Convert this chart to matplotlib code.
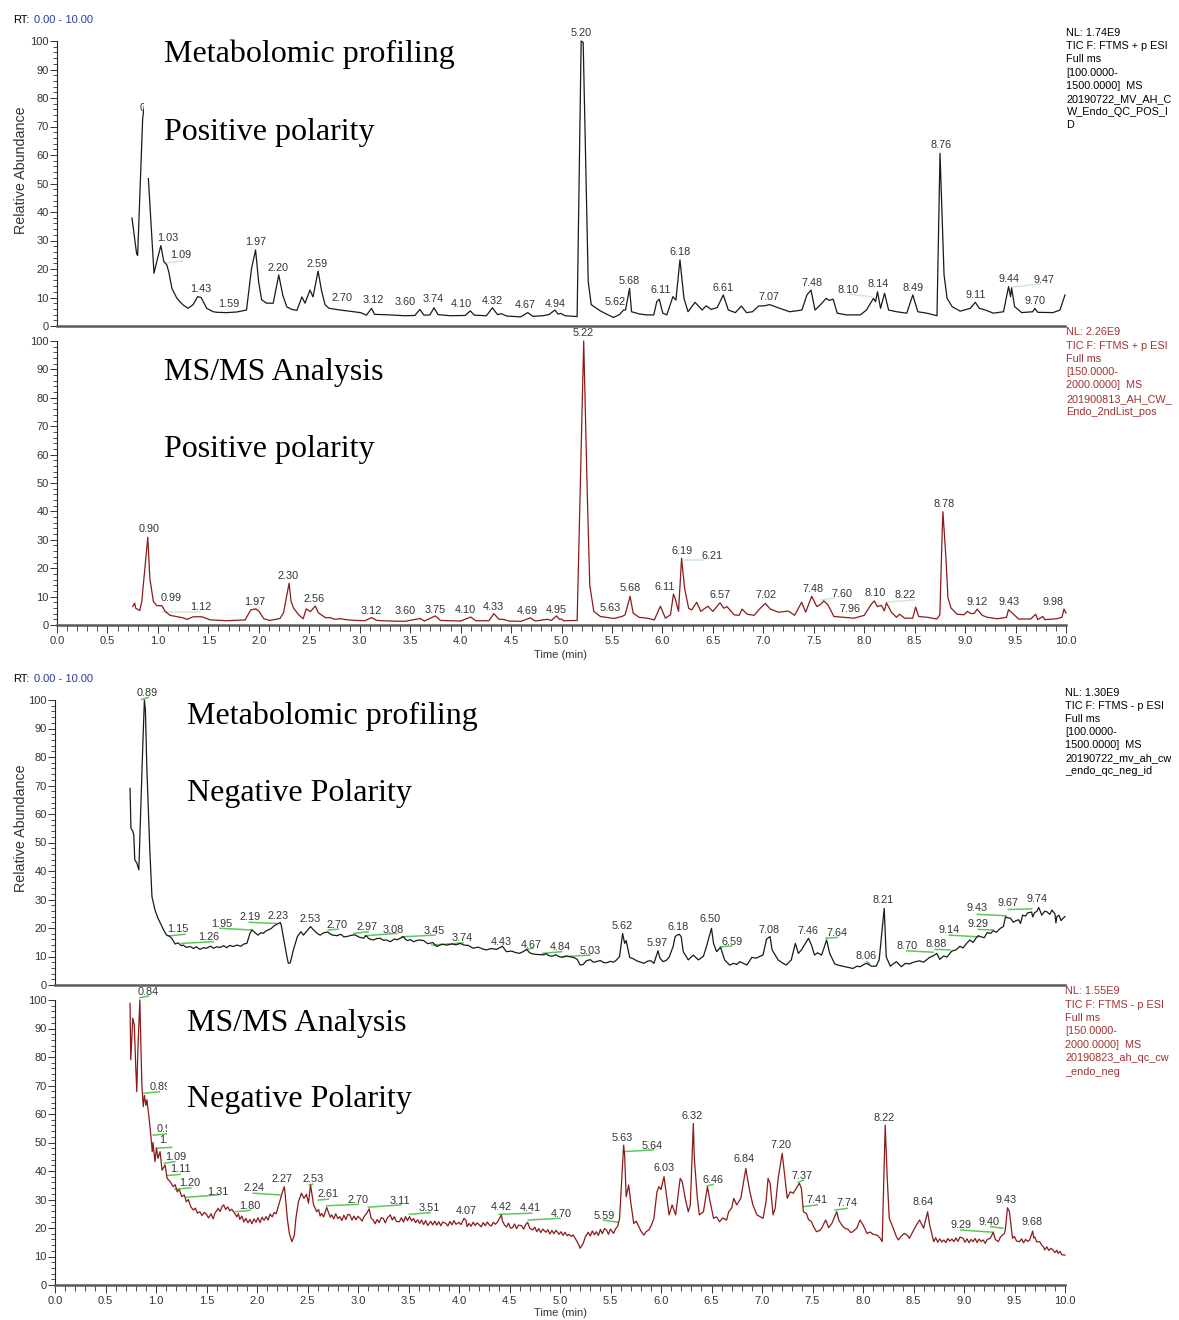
import matplotlib.pyplot as plt
from matplotlib.patches import Rectangle
from matplotlib.ticker import MultipleLocator, FormatStrFormatter

W, H = 1179, 1320
plt.rcParams['font.family'] = ['Liberation Sans', 'DejaVu Sans']

# TIC traces: (retention time in min, relative abundance in %)
tic_pos_profiling = [
    (0.744, 37.9), (0.79, 25.3), (0.80, 24.8), (0.85, 73), (0.87, 78), (0.906, 52), (0.962, 18.5),
    (0.99, 22.6), (1.03, 28.2), (1.06, 22.6), (1.09, 21.4), (1.11, 18.8), (1.14, 13.2), (1.19, 9.7),
    (1.25, 7.4), (1.30, 6.2), (1.35, 7.5), (1.395, 10.3), (1.43, 10.0), (1.485, 6.2), (1.55, 5.0),
    (1.59, 4.8), (1.68, 4.7), (1.78, 4.9), (1.88, 5.6), (1.93, 20.2), (1.97, 26.7), (2.00, 15.6),
    (2.03, 9.2), (2.08, 8.0), (2.145, 8.0), (2.20, 17.9), (2.24, 10.8), (2.28, 6.7), (2.33, 5.8),
    (2.38, 5.5), (2.43, 10.2), (2.46, 8.0), (2.51, 12.6), (2.54, 10.2), (2.59, 19.3), (2.625, 12.3),
    (2.66, 7.4), (2.70, 6.2), (2.81, 5.6), (2.90, 5.2), (3.01, 4.7), (3.07, 3.8), (3.12, 6.2),
    (3.15, 4.1), (3.30, 3.9), (3.45, 3.6), (3.55, 3.7), (3.60, 5.8), (3.64, 3.8), (3.70, 3.9),
    (3.74, 6.4), (3.78, 4.0), (3.90, 3.6), (4.05, 3.7), (4.10, 5.3), (4.14, 3.8), (4.26, 3.6),
    (4.32, 6.4), (4.37, 4.0), (4.41, 4.3), (4.46, 3.5), (4.60, 3.2), (4.67, 4.7), (4.72, 3.4),
    (4.82, 3.6), (4.88, 4.0), (4.94, 5.6), (4.97, 4.2), (5.00, 4.4), (5.04, 3.6), (5.16, 3.3),
    (5.20, 100), (5.22, 99.5), (5.27, 15.6), (5.30, 7.5), (5.39, 5.3), (5.45, 4.2), (5.52, 3.0),
    (5.58, 4.0), (5.62, 5.6), (5.64, 5.6), (5.68, 13.2), (5.70, 5.0), (5.78, 4.2), (5.85, 3.9),
    (5.92, 3.9), (5.95, 8.5), (5.975, 9.4), (6.01, 4.5), (6.05, 3.9), (6.11, 10.3), (6.14, 9.1),
    (6.18, 23.2), (6.22, 9.7), (6.26, 5.0), (6.33, 8.3), (6.40, 5.6), (6.44, 7.1), (6.49, 5.8),
    (6.55, 6.5), (6.61, 10.9), (6.66, 5.6), (6.73, 4.7), (6.79, 7.0), (6.84, 4.7), (6.90, 5.0),
    (6.96, 7.0), (7.02, 7.1), (7.07, 7.5), (7.17, 6.2), (7.27, 5.0), (7.39, 5.6), (7.44, 10.9),
    (7.48, 12.6), (7.52, 5.6), (7.57, 7.3), (7.63, 9.7), (7.66, 9.0), (7.70, 9.4), (7.74, 4.5),
    (7.83, 3.9), (7.97, 3.9), (8.03, 5.6), (8.10, 9.7), (8.12, 8.5), (8.14, 12.0), (8.17, 6.2),
    (8.21, 11.5), (8.25, 5.6), (8.33, 5.0), (8.43, 4.5), (8.49, 10.9), (8.54, 5.0), (8.63, 4.5),
    (8.73, 3.6), (8.76, 60.6), (8.80, 18.0), (8.83, 9.7), (8.88, 6.8), (8.96, 5.2), (9.06, 6.2),
    (9.11, 8.3), (9.15, 6.2), (9.21, 5.6), (9.29, 4.5), (9.39, 5.0), (9.44, 13.8), (9.46, 10.3),
    (9.47, 13.4), (9.50, 6.8), (9.57, 4.7), (9.68, 5.0), (9.70, 6.2), (9.73, 4.8), (9.88, 4.7),
    (9.95, 5.6), (10.0, 10.9),
]

tic_pos_msms = [
    (0.75, 6.5), (0.77, 7.7), (0.78, 5.9), (0.82, 5.1), (0.84, 8.3), (0.90, 30.9), (0.92, 16.5),
    (0.955, 8.3), (0.99, 6.8), (1.04, 6.8), (1.07, 4.9), (1.12, 3.4), (1.24, 2.6), (1.29, 2.0),
    (1.35, 2.9), (1.435, 2.9), (1.52, 1.8), (1.68, 1.5), (1.865, 1.8), (1.92, 5.3), (1.97, 5.7),
    (2.00, 4.9), (2.05, 2.2), (2.11, 1.6), (2.21, 2.3), (2.245, 4.3), (2.30, 14.7), (2.32, 8.3),
    (2.345, 5.9), (2.395, 3.6), (2.44, 2.2), (2.47, 5.7), (2.51, 4.7), (2.56, 6.7), (2.59, 4.3),
    (2.66, 2.6), (2.71, 2.6), (2.75, 2.0), (2.81, 2.2), (2.88, 1.8), (2.97, 1.6), (3.05, 1.5),
    (3.12, 2.6), (3.17, 1.6), (3.30, 1.4), (3.45, 1.3), (3.60, 2.3), (3.64, 1.4), (3.75, 3.2),
    (3.80, 1.6), (3.915, 1.5), (4.00, 1.4), (4.10, 2.8), (4.15, 1.5), (4.28, 1.5), (4.33, 4.0),
    (4.38, 2.0), (4.42, 2.0), (4.48, 1.4), (4.60, 1.3), (4.69, 2.5), (4.74, 1.4), (4.86, 2.0),
    (4.90, 1.6), (4.95, 3.2), (4.98, 2.0), (5.00, 2.1), (5.02, 1.5), (5.155, 1.6), (5.22, 100),
    (5.255, 46.9), (5.28, 14.1), (5.32, 4.8), (5.385, 3.0), (5.52, 2.3), (5.60, 3.0), (5.63, 3.6),
    (5.68, 10.1), (5.71, 4.2), (5.77, 2.7), (5.85, 2.4), (5.92, 1.8), (5.98, 6.6), (6.03, 2.4),
    (6.08, 3.6), (6.11, 10.9), (6.13, 8.9), (6.16, 4.8), (6.19, 23.5), (6.22, 12.9), (6.26, 5.9),
    (6.29, 5.3), (6.34, 8.0), (6.38, 4.8), (6.45, 6.6), (6.50, 4.8), (6.57, 7.8), (6.61, 5.9),
    (6.64, 6.5), (6.71, 3.6), (6.76, 3.4), (6.79, 5.6), (6.84, 3.8), (6.91, 3.4), (6.97, 5.9),
    (7.02, 7.6), (7.07, 5.6), (7.15, 4.5), (7.25, 4.9), (7.31, 3.4), (7.38, 8.0), (7.42, 4.5),
    (7.48, 10.1), (7.53, 6.5), (7.57, 7.3), (7.60, 8.5), (7.64, 7.1), (7.70, 3.0), (7.80, 2.7),
    (7.90, 2.4), (7.96, 3.0), (8.00, 3.4), (8.07, 7.3), (8.10, 8.5), (8.13, 6.5), (8.17, 6.9),
    (8.20, 5.0), (8.22, 7.8), (8.27, 4.5), (8.32, 2.7), (8.35, 3.8), (8.40, 2.4), (8.48, 2.4),
    (8.51, 6.3), (8.54, 3.0), (8.63, 2.7), (8.72, 2.1), (8.75, 3.6), (8.77, 29.3), (8.78, 39.9),
    (8.81, 23.7), (8.83, 9.6), (8.86, 6.0), (8.92, 3.8), (8.99, 3.6), (9.02, 4.8), (9.06, 4.0),
    (9.09, 4.1), (9.12, 5.6), (9.17, 3.4), (9.22, 2.7), (9.32, 2.2), (9.41, 2.7), (9.43, 5.4),
    (9.48, 3.8), (9.53, 2.1), (9.65, 2.1), (9.70, 3.8), (9.72, 1.9), (9.77, 3.0), (9.79, 1.9),
    (9.91, 2.2), (9.96, 2.7), (9.98, 5.6), (10.0, 4.2),
]

tic_neg_profiling = [
    (0.743, 69.0), (0.752, 55.0), (0.77, 54.0), (0.78, 52.6), (0.79, 43.9), (0.81, 42.8),
    (0.83, 40.4), (0.87, 85), (0.885, 100), (0.895, 96.5), (0.91, 75.4), (0.94, 46.2), (0.96, 31.0),
    (0.99, 26.3), (1.02, 23.4), (1.06, 20.5), (1.08, 19.0), (1.105, 17.5), (1.13, 17.2),
    (1.155, 16.4), (1.19, 14.4), (1.22, 14.8), (1.25, 13.8), (1.27, 14.0), (1.30, 13.2),
    (1.34, 13.5), (1.37, 12.8), (1.40, 13.4), (1.435, 12.5), (1.47, 13.1), (1.50, 12.9),
    (1.54, 13.6), (1.57, 12.9), (1.60, 13.4), (1.635, 13.2), (1.67, 13.8), (1.70, 13.1),
    (1.73, 13.9), (1.765, 13.5), (1.80, 14.0), (1.84, 13.6), (1.87, 14.4), (1.90, 14.6),
    (1.93, 18.1), (1.95, 19.3), (2.01, 17.5), (2.04, 18.4), (2.06, 18.1), (2.09, 19.0),
    (2.11, 19.3), (2.14, 19.8), (2.16, 20.5), (2.19, 21.2), (2.23, 21.9), (2.24, 21.0),
    (2.26, 17.0), (2.29, 11.1), (2.31, 7.6), (2.33, 7.8), (2.36, 12.3), (2.40, 17.0),
    (2.435, 18.7), (2.46, 17.5), (2.53, 20.5), (2.56, 19.3), (2.60, 18.0), (2.625, 17.5),
    (2.66, 18.3), (2.70, 18.6), (2.74, 17.6), (2.79, 17.3), (2.83, 17.8), (2.86, 16.9),
    (2.89, 17.0), (2.93, 17.4), (2.97, 17.6), (3.01, 16.8), (3.055, 16.4), (3.08, 17.3),
    (3.11, 16.2), (3.15, 15.8), (3.19, 16.3), (3.22, 16.4), (3.25, 15.7), (3.28, 15.8),
    (3.32, 15.2), (3.36, 16.1), (3.39, 15.9), (3.45, 17.0), (3.47, 16.0), (3.49, 15.6),
    (3.52, 15.9), (3.55, 15.2), (3.60, 15.8), (3.65, 15.6), (3.69, 14.5), (3.74, 14.9),
    (3.78, 13.5), (3.83, 14.3), (3.88, 14.0), (3.93, 14.4), (3.97, 14.1), (4.01, 14.6),
    (4.05, 14.0), (4.09, 13.9), (4.14, 12.9), (4.19, 13.3), (4.23, 12.7), (4.27, 12.3),
    (4.32, 12.8), (4.37, 12.5), (4.40, 13.0), (4.43, 13.6), (4.47, 11.7), (4.52, 11.9),
    (4.56, 11.4), (4.60, 11.1), (4.64, 11.8), (4.67, 12.5), (4.70, 11.3), (4.73, 10.9),
    (4.78, 10.7), (4.84, 10.6), (4.86, 11.0), (4.89, 10.3), (4.92, 10.1), (4.96, 10.6),
    (5.00, 9.8), (5.03, 9.8), (5.06, 10.2), (5.10, 9.9), (5.14, 9.6), (5.17, 9.0), (5.20, 7.0),
    (5.23, 7.2), (5.26, 8.5), (5.30, 8.9), (5.33, 8.0), (5.36, 8.2), (5.40, 8.6), (5.43, 7.9),
    (5.46, 7.8), (5.50, 8.3), (5.53, 8.0), (5.56, 8.8), (5.59, 10.0), (5.62, 18.1), (5.64, 14.6),
    (5.655, 15.6), (5.69, 9.7), (5.72, 9.3), (5.76, 8.5), (5.80, 8.0), (5.83, 7.6), (5.87, 8.4),
    (5.90, 8.5), (5.93, 7.6), (5.97, 12.0), (5.99, 9.4), (6.02, 8.2), (6.05, 8.6), (6.08, 9.7),
    (6.12, 13.5), (6.14, 17.0), (6.16, 17.5), (6.18, 17.8), (6.20, 17.0), (6.22, 11.7),
    (6.27, 8.8), (6.32, 10.5), (6.37, 8.8), (6.42, 10.1), (6.45, 13.5), (6.50, 19.9),
    (6.52, 14.6), (6.55, 11.7), (6.59, 13.2), (6.63, 8.8), (6.68, 7.0), (6.72, 7.6), (6.75, 7.2),
    (6.78, 8.2), (6.82, 7.5), (6.85, 7.0), (6.90, 9.7), (6.94, 9.4), (6.97, 9.9), (7.01, 10.5),
    (7.045, 16.1), (7.08, 17.0), (7.10, 12.3), (7.16, 8.8), (7.20, 7.8), (7.24, 7.0), (7.29, 8.8),
    (7.33, 14.6), (7.36, 11.1), (7.39, 12.3), (7.46, 16.4), (7.49, 14.0), (7.52, 10.5),
    (7.55, 11.3), (7.59, 10.5), (7.64, 15.8), (7.67, 11.1), (7.72, 7.4), (7.76, 6.9), (7.80, 6.6),
    (7.85, 6.2), (7.90, 5.8), (7.94, 6.6), (7.97, 6.4), (8.03, 7.6), (8.06, 7.2), (8.08, 6.6),
    (8.13, 6.6), (8.16, 8.8), (8.21, 26.9), (8.23, 9.9), (8.27, 6.6), (8.30, 7.4), (8.33, 8.2),
    (8.38, 6.4), (8.42, 7.6), (8.46, 7.4), (8.50, 8.0), (8.56, 8.5), (8.60, 8.0), (8.66, 9.7),
    (8.70, 10.3), (8.73, 11.1), (8.76, 9.0), (8.80, 10.2), (8.83, 9.8), (8.86, 11.1),
    (8.88, 11.9), (8.92, 12.3), (8.96, 13.6), (8.99, 13.0), (9.03, 14.8), (9.06, 15.8),
    (9.09, 14.9), (9.12, 16.5), (9.14, 17.3), (9.16, 17.0), (9.20, 16.6), (9.23, 18.4),
    (9.26, 18.1), (9.29, 19.0), (9.32, 18.5), (9.36, 19.9), (9.39, 20.5), (9.41, 23.9),
    (9.43, 23.6), (9.46, 23.4), (9.49, 22.0), (9.51, 22.5), (9.54, 22.9), (9.56, 21.6),
    (9.58, 24.5), (9.61, 24.2), (9.63, 25.3), (9.67, 25.6), (9.68, 23.9), (9.70, 25.4),
    (9.72, 25.8), (9.74, 27.2), (9.77, 24.5), (9.80, 25.9), (9.82, 25.7), (9.85, 24.8),
    (9.87, 26.3), (9.90, 25.0), (9.91, 21.8), (9.92, 24.0), (9.94, 24.5), (9.96, 22.6),
    (9.98, 23.4), (10.0, 24.0),
]

tic_neg_msms = [
    (0.743, 98.8), (0.75, 79), (0.77, 93.6), (0.785, 91.2), (0.80, 76), (0.81, 67.8), (0.82, 82),
    (0.84, 100), (0.86, 70), (0.874, 62.6), (0.885, 66.5), (0.90, 63.0), (0.91, 65.0), (0.93, 59.0),
    (0.946, 53.6), (0.963, 46.8), (0.97, 50.0), (0.99, 43.3), (1.005, 48.0), (1.02, 44.4),
    (1.04, 46.8), (1.06, 40.3), (1.09, 42.1), (1.11, 37.4), (1.14, 36.3), (1.17, 34.5),
    (1.19, 35.2), (1.21, 32.7), (1.23, 33.5), (1.255, 31.0), (1.28, 31.6), (1.30, 29.2),
    (1.32, 30.0), (1.345, 27.4), (1.37, 26.3), (1.39, 27.0), (1.41, 25.2), (1.435, 25.7),
    (1.455, 24.4), (1.48, 25.5), (1.50, 24.8), (1.52, 23.5), (1.545, 25.0), (1.565, 23.2),
    (1.585, 25.3), (1.60, 26.0), (1.615, 26.9), (1.635, 25.8), (1.655, 27.6), (1.67, 28.1),
    (1.69, 26.5), (1.71, 27.4), (1.73, 26.0), (1.75, 26.6), (1.78, 25.1), (1.80, 23.9),
    (1.815, 25.0), (1.83, 23.0), (1.85, 24.2), (1.87, 22.1), (1.89, 23.4), (1.91, 21.8),
    (1.93, 23.0), (1.95, 21.5), (1.97, 23.2), (1.99, 22.0), (2.01, 23.6), (2.03, 21.9),
    (2.05, 23.8), (2.07, 22.7), (2.09, 24.0), (2.11, 22.8), (2.13, 24.9), (2.15, 23.9),
    (2.17, 25.4), (2.19, 25.0), (2.21, 27.5), (2.235, 30.5), (2.255, 33.0), (2.27, 34.5),
    (2.28, 31.5), (2.30, 23.4), (2.32, 18.1), (2.345, 15.2), (2.37, 17.5), (2.385, 23.4),
    (2.41, 29.2), (2.44, 32.2), (2.465, 30.4), (2.49, 31.8), (2.51, 28.7), (2.53, 35.1),
    (2.56, 28.1), (2.575, 27.0), (2.59, 25.7), (2.61, 26.5), (2.625, 24.2), (2.64, 25.1),
    (2.66, 23.9), (2.69, 27.2), (2.71, 25.3), (2.725, 23.8), (2.74, 24.6), (2.76, 23.2),
    (2.78, 25.0), (2.80, 23.3), (2.82, 24.0), (2.84, 22.6), (2.86, 24.5), (2.88, 23.0),
    (2.90, 24.8), (2.92, 24.6), (2.94, 22.8), (2.96, 24.2), (2.98, 22.9), (3.00, 24.1),
    (3.02, 23.4), (3.04, 22.4), (3.06, 24.0), (3.085, 25.1), (3.11, 26.7), (3.13, 23.5),
    (3.15, 22.8), (3.17, 21.5), (3.19, 23.0), (3.21, 21.9), (3.23, 23.6), (3.25, 23.4),
    (3.27, 21.8), (3.29, 23.5), (3.32, 24.6), (3.34, 22.8), (3.36, 23.9), (3.38, 22.3),
    (3.41, 22.2), (3.43, 23.6), (3.45, 22.1), (3.47, 24.0), (3.49, 22.6), (3.51, 24.0),
    (3.53, 22.5), (3.55, 23.3), (3.57, 21.9), (3.59, 22.9), (3.61, 21.6), (3.63, 22.8),
    (3.65, 21.2), (3.67, 22.6), (3.69, 20.9), (3.72, 22.3), (3.74, 21.1), (3.76, 22.4),
    (3.78, 21.0), (3.80, 22.2), (3.82, 20.8), (3.84, 22.1), (3.87, 21.6), (3.89, 20.7),
    (3.91, 22.3), (3.93, 21.1), (3.95, 22.6), (3.97, 21.3), (4.00, 22.0), (4.02, 21.2),
    (4.05, 23.4), (4.07, 22.6), (4.08, 20.5), (4.10, 21.6), (4.12, 20.6), (4.14, 22.0),
    (4.16, 20.9), (4.18, 21.8), (4.20, 21.1), (4.22, 20.4), (4.24, 21.9), (4.26, 20.8),
    (4.28, 22.1), (4.30, 21.1), (4.32, 20.7), (4.34, 22.0), (4.36, 21.3), (4.38, 22.0),
    (4.42, 24.6), (4.43, 22.5), (4.45, 21.1), (4.47, 20.3), (4.49, 21.7), (4.51, 19.9),
    (4.53, 20.1), (4.55, 21.4), (4.57, 19.8), (4.59, 21.0), (4.62, 20.8), (4.64, 19.6),
    (4.66, 21.2), (4.68, 22.0), (4.70, 19.9), (4.73, 19.3), (4.75, 20.3), (4.77, 18.7),
    (4.79, 19.8), (4.81, 18.4), (4.83, 19.6), (4.86, 18.5), (4.88, 19.4), (4.90, 17.9),
    (4.92, 19.1), (4.94, 18.0), (4.96, 19.2), (4.99, 17.8), (5.01, 18.7), (5.03, 17.4),
    (5.05, 18.5), (5.07, 17.3), (5.09, 17.8), (5.11, 17.0), (5.13, 17.6), (5.16, 15.8),
    (5.18, 14.5), (5.20, 12.9), (5.215, 13.8), (5.23, 14.6), (5.25, 16.8), (5.28, 18.5),
    (5.30, 17.2), (5.32, 19.0), (5.34, 17.6), (5.36, 18.7), (5.38, 17.4), (5.40, 19.5),
    (5.42, 18.0), (5.44, 19.8), (5.46, 19.3), (5.48, 17.8), (5.50, 19.6), (5.53, 18.1),
    (5.55, 19.7), (5.57, 20.5), (5.59, 23.4), (5.63, 49.1), (5.64, 45.6), (5.655, 31.0),
    (5.68, 35.1), (5.70, 29.2), (5.73, 21.6), (5.755, 22.4), (5.78, 20.5), (5.80, 19.0),
    (5.83, 17.5), (5.855, 18.8), (5.88, 19.3), (5.905, 21.0), (5.93, 23.4), (5.96, 32.7),
    (5.98, 34.5), (6.00, 33.5), (6.03, 38.0), (6.05, 32.7), (6.08, 24.6), (6.11, 28.1),
    (6.145, 24.6), (6.19, 37.4), (6.21, 36.3), (6.24, 30.4), (6.27, 25.7), (6.29, 28.0),
    (6.32, 56.7), (6.33, 44.4), (6.36, 30.4), (6.38, 24.6), (6.42, 25.7), (6.46, 34.5),
    (6.48, 30.4), (6.52, 23.4), (6.55, 23.9), (6.58, 22.2), (6.61, 23.5), (6.65, 22.8),
    (6.67, 25.7), (6.70, 27.0), (6.72, 30.4), (6.75, 28.1), (6.79, 30.4), (6.84, 40.9),
    (6.85, 38.6), (6.88, 32.7), (6.91, 28.1), (6.95, 24.6), (6.98, 24.0), (7.01, 23.4),
    (7.04, 29.2), (7.06, 37.4), (7.08, 35.7), (7.11, 24.6), (7.13, 26.9), (7.16, 37.4),
    (7.20, 46.2), (7.22, 39.8), (7.25, 30.4), (7.28, 32.7), (7.31, 32.2), (7.34, 34.0),
    (7.37, 35.7), (7.39, 33.9), (7.41, 25.7), (7.44, 25.1), (7.46, 23.0), (7.49, 22.2),
    (7.51, 20.5), (7.54, 18.7), (7.57, 19.1), (7.59, 19.9), (7.63, 22.8), (7.66, 20.1),
    (7.69, 21.5), (7.74, 25.7), (7.76, 22.8), (7.79, 21.0), (7.82, 19.9), (7.85, 19.6),
    (7.88, 18.4), (7.90, 18.7), (7.94, 20.0), (7.97, 22.8), (8.00, 21.1), (8.04, 18.1),
    (8.07, 18.6), (8.10, 17.8), (8.14, 17.5), (8.17, 16.4), (8.19, 15.2), (8.22, 56.1),
    (8.24, 37.4), (8.26, 23.4), (8.30, 19.9), (8.33, 17.0), (8.35, 15.8), (8.38, 17.2),
    (8.41, 18.1), (8.44, 17.4), (8.46, 16.4), (8.49, 18.5), (8.53, 21.1), (8.56, 22.8),
    (8.60, 19.9), (8.64, 25.7), (8.66, 21.1), (8.70, 15.2), (8.72, 16.6), (8.74, 15.0),
    (8.76, 16.2), (8.78, 15.1), (8.80, 15.8), (8.82, 14.9), (8.84, 16.3), (8.86, 15.4),
    (8.88, 16.1), (8.90, 15.2), (8.92, 16.5), (8.94, 15.3), (8.96, 16.8), (8.99, 16.4),
    (9.01, 15.0), (9.03, 16.2), (9.05, 14.8), (9.07, 16.0), (9.09, 15.2), (9.11, 16.3),
    (9.13, 14.9), (9.15, 16.1), (9.17, 15.3), (9.19, 15.8), (9.21, 14.6), (9.23, 16.0),
    (9.26, 16.4), (9.29, 18.5), (9.31, 16.0), (9.34, 15.2), (9.36, 16.8), (9.40, 18.1),
    (9.41, 19.5), (9.43, 27.1), (9.45, 25.7), (9.48, 16.4), (9.50, 17.0), (9.52, 15.4),
    (9.55, 15.2), (9.57, 16.2), (9.59, 14.8), (9.61, 16.0), (9.63, 15.3), (9.65, 15.8),
    (9.68, 18.9), (9.69, 16.5), (9.70, 16.9), (9.72, 15.1), (9.75, 15.2), (9.77, 14.0),
    (9.79, 13.2), (9.80, 12.3), (9.82, 13.4), (9.84, 12.1), (9.86, 12.9), (9.88, 12.3),
    (9.90, 11.4), (9.92, 12.2), (9.93, 11.1), (9.95, 11.8), (9.97, 10.6), (10.0, 10.5),
]

# Peak annotations: (label, rt position, abundance position)
labels_pos_profiling = [
    ('0.85', 0.925, 76.5), ('1.03', 1.101, 30.9), ('1.09', 1.230, 24.9), ('1.43', 1.429, 13.0),
    ('1.59', 1.706, 7.7), ('1.97', 1.974, 29.5), ('2.20', 2.192, 20.4), ('2.59', 2.579, 21.8),
    ('2.70', 2.827, 9.8), ('3.12', 3.135, 9.1), ('3.60', 3.452, 8.4), ('3.74', 3.730, 9.5),
    ('4.10', 4.008, 7.7), ('4.32', 4.315, 8.8), ('4.67', 4.643, 7.4), ('4.94', 4.940, 7.7),
    ('5.20', 5.198, 102.8), ('5.62', 5.536, 8.4), ('5.68', 5.675, 15.8), ('6.11', 5.992, 12.6),
    ('6.18', 6.181, 26.0), ('6.61', 6.607, 13.3), ('7.07', 7.063, 10.2), ('7.48', 7.490, 15.1),
    ('8.10', 7.847, 12.6), ('8.14', 8.145, 14.7), ('8.49', 8.492, 13.3), ('8.76', 8.770, 63.5),
    ('9.11', 9.117, 10.9), ('9.44', 9.444, 16.5), ('9.47', 9.792, 16.1), ('9.70', 9.702, 8.8),
]
labels_pos_msms = [
    ('0.90', 0.913, 33.8), ('0.99', 1.131, 9.5), ('1.12', 1.429, 6.3), ('1.97', 1.964, 8.1),
    ('2.30', 2.292, 17.3), ('2.56', 2.550, 9.2), ('3.12', 3.115, 4.9), ('3.60', 3.452, 4.9),
    ('3.75', 3.750, 5.3), ('4.10', 4.048, 5.3), ('4.33', 4.325, 6.3), ('4.69', 4.663, 4.9),
    ('4.95', 4.950, 5.3), ('5.22', 5.218, 102.8), ('5.63', 5.486, 6.0), ('5.68', 5.685, 13.0),
    ('6.11', 6.022, 13.4), ('6.19', 6.190, 26.1), ('6.21', 6.488, 24.3), ('6.57', 6.567, 10.6),
    ('7.02', 7.024, 10.6), ('7.48', 7.490, 12.7), ('7.60', 7.778, 10.9), ('7.96', 7.857, 5.6),
    ('8.10', 8.105, 11.3), ('8.22', 8.403, 10.6), ('8.78', 8.790, 42.6), ('9.12', 9.117, 8.1),
    ('9.43', 9.435, 8.1), ('9.98', 9.871, 8.1),
]
labels_neg_profiling = [
    ('0.89', 0.908, 102.6), ('1.15', 1.221, 19.5), ('1.26', 1.518, 16.9), ('1.95', 1.650, 21.4),
    ('2.19', 1.931, 23.8), ('2.23', 2.211, 24.2), ('2.53', 2.525, 23.1), ('2.70', 2.795, 21.1),
    ('2.97', 3.086, 20.2), ('3.08', 3.350, 19.3), ('3.45', 3.755, 19.1), ('3.74', 4.027, 16.4),
    ('4.43', 4.423, 15.2), ('4.67', 4.720, 14.0), ('4.84', 5.000, 13.2), ('5.03', 5.297, 12.0),
    ('5.62', 5.617, 20.7), ('5.97', 5.957, 14.8), ('6.18', 6.165, 20.2), ('6.50', 6.485, 23.1),
    ('6.59', 6.700, 15.2), ('7.08', 7.072, 19.3), ('7.46', 7.458, 18.9), ('7.64', 7.740, 18.4),
    ('8.06', 8.027, 10.2), ('8.21', 8.201, 29.8), ('8.70', 8.433, 13.7), ('8.88', 8.723, 14.3),
    ('9.14', 8.851, 19.3), ('9.29', 9.142, 21.4), ('9.43', 9.132, 26.9), ('9.67', 9.439, 28.9),
    ('9.74', 9.726, 30.1),
]
labels_neg_msms = [
    ('0.84', 0.924, 102.9), ('0.89', 1.045, 69.6), ('0.97', 1.114, 54.7), ('1.01', 1.140, 50.9),
    ('1.09', 1.198, 45.0), ('1.11', 1.246, 40.6), ('1.20', 1.337, 35.7), ('1.31', 1.617, 32.7),
    ('1.80', 1.933, 27.8), ('2.24', 1.975, 33.9), ('2.27', 2.252, 37.2), ('2.53', 2.552, 37.2),
    ('2.61', 2.703, 31.8), ('2.70', 3.000, 29.8), ('3.11', 3.419, 29.5), ('3.51', 3.703, 26.9),
    ('4.07', 4.067, 26.1), ('4.42', 4.414, 27.5), ('4.41', 4.705, 27.1), ('4.70', 5.008, 24.8),
    ('5.59', 5.437, 24.3), ('5.63', 5.616, 51.7), ('5.64', 5.913, 48.9), ('6.03', 6.028, 40.9),
    ('6.32', 6.312, 59.4), ('6.46', 6.517, 36.8), ('6.84', 6.824, 44.2), ('7.20', 7.193, 49.1),
    ('7.37', 7.398, 38.4), ('7.41', 7.541, 29.8), ('7.74', 7.840, 28.7), ('8.22', 8.210, 58.7),
    ('8.64', 8.599, 29.0), ('9.29', 8.970, 21.1), ('9.40', 9.252, 22.0), ('9.43', 9.419, 29.8),
    ('9.68', 9.675, 22.2),
]

# Leader lines from labels to peaks: (rt1, ab1, rt2, ab2)
leaders_pos_profiling = [(1.071, 22.1, 1.240, 22.8), (7.867, 11.2, 8.085, 10.2), (9.484, 13.7, 9.752, 14.7)]
leaders_pos_msms = [(1.052, 4.6, 1.419, 4.6), (6.210, 22.9, 6.399, 22.9), (7.569, 8.8, 7.698, 9.5),
                    (8.234, 8.1, 8.492, 8.8)]
leaders_neg_profiling = [
    (0.858, 100.2, 0.924, 100.9), (1.122, 17.2, 1.287, 17.8), (1.254, 14.6, 1.567, 15.2),
    (1.634, 19.9, 1.948, 19.3), (1.924, 22.0, 2.188, 21.6), (2.706, 19.3, 2.805, 19.6),
    (2.960, 18.1, 3.102, 18.7), (3.069, 17.3, 3.383, 18.1), (3.433, 16.9, 3.762, 17.5),
    (3.730, 14.0, 4.043, 14.8), (4.670, 12.5, 4.730, 12.9), (4.829, 11.1, 5.017, 11.7),
    (5.017, 9.9, 5.297, 10.5), (6.584, 13.4, 6.700, 13.7), (7.634, 16.4, 7.746, 16.7),
    (8.037, 8.2, 8.062, 7.6), (8.433, 12.0, 8.696, 11.5), (8.713, 12.5, 8.861, 12.3),
    (8.854, 17.5, 9.141, 16.9), (9.142, 19.5, 9.290, 19.3), (9.132, 24.8, 9.416, 24.3),
    (9.439, 26.5, 9.670, 26.7),
]
leaders_neg_msms = [
    (0.842, 100.8, 0.924, 101.4), (0.881, 67.3, 1.033, 67.8), (0.973, 52.6, 1.106, 53.0),
    (1.000, 48.0, 1.155, 48.3), (1.082, 42.7, 1.188, 43.3), (1.106, 38.4, 1.238, 38.8),
    (1.188, 33.6, 1.344, 34.1), (1.304, 30.8, 1.617, 31.6), (1.792, 25.7, 1.931, 26.2),
    (1.963, 32.2, 2.228, 31.6), (2.518, 35.1, 2.551, 35.4), (2.607, 29.8, 2.706, 30.1),
    (2.690, 27.8, 3.003, 28.3), (3.102, 27.3, 3.423, 28.1), (3.508, 24.8, 3.713, 25.4),
    (4.399, 24.8, 4.720, 25.2), (4.686, 22.8, 5.000, 23.4), (5.429, 22.8, 5.577, 22.0),
    (5.627, 46.8, 5.924, 47.4), (6.458, 34.8, 6.518, 35.3), (7.359, 36.0, 7.409, 36.8),
    (7.409, 27.5, 7.547, 28.1), (7.723, 26.3, 7.845, 26.9), (8.967, 19.3, 9.290, 18.5),
    (9.264, 20.5, 9.389, 19.9),
]

# Scan header text
header_pos_profiling = ['NL: 1.74E9', 'TIC F: FTMS + p ESI', 'Full ms', '[100.0000-',
                        '1500.0000]  MS', '20190722_MV_AH_C', 'W_Endo_QC_POS_I', 'D']
header_pos_msms = ['NL: 2.26E9', 'TIC F: FTMS + p ESI', 'Full ms', '[150.0000-',
                   '2000.0000]  MS', '201900813_AH_CW_', 'Endo_2ndList_pos']
header_neg_profiling = ['NL: 1.30E9', 'TIC F: FTMS - p ESI', 'Full ms', '[100.0000-',
                        '1500.0000]  MS', '20190722_mv_ah_cw', '_endo_qc_neg_id']
header_neg_msms = ['NL: 1.55E9', 'TIC F: FTMS - p ESI', 'Full ms', '[150.0000-',
                   '2000.0000]  MS', '20190823_ah_qc_cw', '_endo_neg']

BLACK = '#1a1a1a'
RED = '#8b1a1a'
HEADER_RED = '#a03232'
LEADER = '#5cc85c'
LEADER_FAINT = '#cfe9cf'


def fx(x):
    return x / W


def fy(y):
    return 1 - y / H


def add_panel(left, top, right, bottom):
    return fig.add_axes([fx(left), fy(bottom), (right - left) / W, (bottom - top) / H])


def style_axes(ax, time_axis):
    ax.set_xlim(0, 10)
    ax.set_ylim(0, 100)
    ax.patch.set_visible(False)
    for s in ('top', 'right'):
        ax.spines[s].set_visible(False)
    ax.spines['left'].set_color('#222222')
    ax.spines['left'].set_linewidth(0.8)
    ax.spines['bottom'].set_color('#5a5a5a')
    ax.spines['bottom'].set_linewidth(1.8)
    ax.yaxis.set_major_locator(MultipleLocator(10))
    ax.yaxis.set_minor_locator(MultipleLocator(2))
    ax.tick_params(axis='y', which='major', direction='out', length=5, width=0.7,
                   color='#333333', labelsize=8, labelcolor='#333333', pad=1)
    ax.tick_params(axis='y', which='minor', direction='out', length=3, width=0.6, color='#333333')
    if time_axis:
        ax.xaxis.set_major_locator(MultipleLocator(0.5))
        ax.xaxis.set_minor_locator(MultipleLocator(0.1))
        ax.xaxis.set_major_formatter(FormatStrFormatter('%.1f'))
        ax.tick_params(axis='x', which='major', direction='out', length=6, width=0.7,
                       color='#333333', labelsize=8, labelcolor='#333333', pad=2)
        ax.tick_params(axis='x', which='minor', direction='out', length=4, width=0.6, color='#333333')
    else:
        ax.set_xticks([])


def draw_trace(ax, trace, color, labels, leaders, leader_color):
    rt, ab = zip(*trace)
    ax.plot(rt, ab, color=color, lw=0.9, clip_on=False, zorder=3)
    for x1, y1, x2, y2 in leaders:
        ax.plot([x1, x2], [y1, y2], color=leader_color, lw=1.1, clip_on=False, zorder=2)
    for txt, x, y in labels:
        ax.text(x, y, txt, ha='center', va='center', fontsize=7.8, color='#333333',
                clip_on=False, zorder=4)


def white_box(left, top, right, bottom):
    fig.add_artist(Rectangle((fx(left), fy(bottom)), (right - left) / W, (bottom - top) / H,
                             transform=fig.transFigure, facecolor='white', edgecolor='none', zorder=2))


def overlay(x, y, s):
    fig.text(fx(x), fy(y), s, family='Liberation Serif', fontsize=23, color='black',
             ha='left', va='baseline', zorder=3)


def header(x, y0, step, lines, color):
    for i, s in enumerate(lines):
        fig.text(fx(x), fy(y0 + i * step), s, fontsize=7.8, color=color, ha='left', va='center')


def rt_range(y):
    fig.text(fx(13), fy(y), 'RT:', fontsize=8, color='black', ha='left', va='center')
    fig.text(fx(34), fy(y), '0.00 - 10.00', fontsize=8, color='#2a3b9c', ha='left', va='center')


fig = plt.figure(figsize=(W / 100, H / 100), dpi=100)

ax1 = add_panel(57, 41, 1065, 326)
ax2 = add_panel(57, 341, 1066, 625)
ax3 = add_panel(55, 700, 1065, 985)
ax4 = add_panel(55, 1000, 1065, 1285)

style_axes(ax1, False)
style_axes(ax2, True)
style_axes(ax3, False)
style_axes(ax4, True)

draw_trace(ax1, tic_pos_profiling, BLACK, labels_pos_profiling, leaders_pos_profiling, LEADER_FAINT)
draw_trace(ax2, tic_pos_msms, RED, labels_pos_msms, leaders_pos_msms, LEADER_FAINT)
draw_trace(ax3, tic_neg_profiling, BLACK, labels_neg_profiling, leaders_neg_profiling, LEADER)
draw_trace(ax4, tic_neg_msms, RED, labels_neg_msms, leaders_neg_msms, LEADER)

# text boxes sitting on top of the chromatograms
white_box(143.5, 32, 470, 178)
white_box(143.5, 345, 440, 470)
white_box(167, 700, 490, 815)
white_box(167, 1003, 420, 1145)

overlay(164, 62, 'Metabolomic profiling')
overlay(164, 140, 'Positive polarity')
overlay(164, 380, 'MS/MS Analysis')
overlay(164, 456.5, 'Positive polarity')
overlay(187, 724, 'Metabolomic profiling')
overlay(187, 801.5, 'Negative Polarity')
overlay(187, 1030.5, 'MS/MS Analysis')
overlay(187, 1107.5, 'Negative Polarity')

header(1066.5, 33.3, 13.1, header_pos_profiling, 'black')
header(1066.5, 332.3, 13.3, header_pos_msms, HEADER_RED)
header(1065, 692.7, 13.1, header_neg_profiling, 'black')
header(1065, 991.3, 13.4, header_neg_msms, HEADER_RED)

rt_range(20)
rt_range(679)

for yc in (170, 828):
    fig.text(fx(21), fy(yc), 'Relative Abundance', rotation=90, fontsize=10.3,
             color='#333333', ha='center', va='center')
for yc in (655, 1313):
    fig.text(fx(560), fy(yc), 'Time (min)', fontsize=8, color='#333333', ha='center', va='center')

fig.savefig('out.png', dpi=100)
